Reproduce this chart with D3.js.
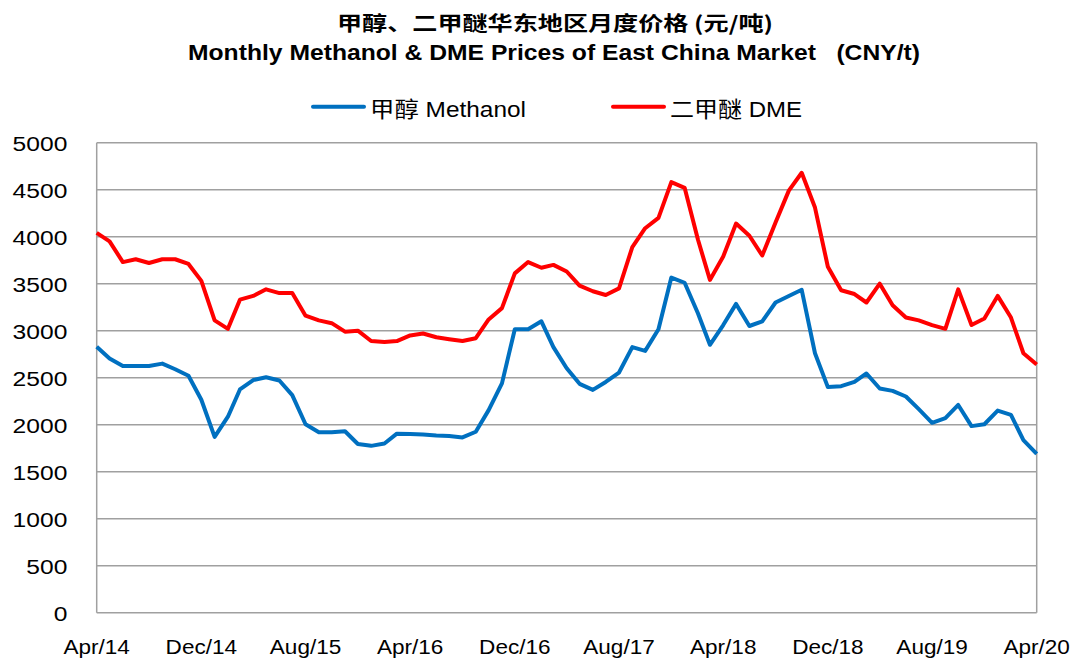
<!DOCTYPE html>
<html>
<head>
<meta charset="utf-8">
<script src="https://cdn.jsdelivr.net/npm/d3@7"></script>
<style>
  body { margin: 0; background: #fff; }
  text { font-family: "Liberation Sans", Arial, "Noto Sans CJK SC", sans-serif; fill: #000; }
</style>
</head>
<body>
<div id="chart"></div>
<script>
// monthly prices, Apr/14 .. Apr/20
var methanol = [2830, 2705, 2625, 2625, 2625, 2650, 2590, 2520, 2265, 1870, 2085, 2375, 2475,
  2505, 2470, 2315, 2005, 1920, 1920, 1930, 1795, 1775, 1800, 1905, 1900,
  1895, 1885, 1880, 1865, 1925, 2155, 2440, 3015, 3015, 3100, 2825, 2600,
  2435, 2370, 2455, 2555, 2825, 2785, 3015, 3565, 3510, 3185, 2850, 3060,
  3285, 3050, 3100, 3300, 3370, 3435, 2760, 2400, 2410, 2455, 2545, 2385,
  2360, 2300, 2165, 2020, 2070, 2210, 1985, 2005, 2150, 2105, 1835, 1690];
var dme = [4040, 3950, 3730, 3760, 3720, 3760, 3760, 3710, 3530, 3110, 3020, 3330, 3370,
  3440, 3400, 3400, 3160, 3110, 3080, 2990, 3000, 2890, 2880, 2890, 2950,
  2970, 2930, 2910, 2890, 2920, 3120, 3240, 3610, 3730, 3670, 3700, 3630,
  3480, 3420, 3380, 3450, 3890, 4090, 4200, 4580, 4520, 3970, 3540, 3790,
  4140, 4010, 3800, 4150, 4490, 4680, 4310, 3680, 3430, 3390, 3300, 3500,
  3270, 3140, 3110, 3060, 3020, 3440, 3060, 3130, 3370, 3140, 2760, 2640];
var months = d3.timeMonth.range(new Date(2014, 3, 1), new Date(2020, 4, 1));
var xTickLabels = ["Apr/14", "Dec/14", "Aug/15", "Apr/16", "Dec/16", "Aug/17", "Apr/18", "Dec/18", "Aug/19", "Apr/20"];
var yTicks = [0, 500, 1000, 1500, 2000, 2500, 3000, 3500, 4000, 4500, 5000];
var series = [
  { name: "甲醇 Methanol", values: methanol, color: "#0070c0" },
  { name: "二甲醚 DME", values: dme, color: "#ff0000" }
];

var W = 1072, H = 658;
var margin = { top: 142.7, right: 35.3, bottom: 45.3, left: 96.7 },
  width = W - margin.left - margin.right,
  height = H - margin.top - margin.bottom;

var svg = d3.select("#chart").append("svg")
  .attr("width", W)
  .attr("height", H);

var x = d3.scaleTime()
  .domain(d3.extent(months))
  .range([0, width]);
var y = d3.scaleLinear()
  .domain([0, 5000])
  .range([height, 0]);

var g = svg.append("g")
  .attr("transform", "translate(" + margin.left + "," + margin.top + ")");

// grid
g.append("g")
  .selectAll("line")
  .data(yTicks)
  .enter()
  .append("line")
  .attr("x1", 0)
  .attr("x2", width)
  .attr("y1", function (d) { return y(d); })
  .attr("y2", function (d) { return y(d); })
  .attr("stroke", "#a0a0a0")
  .attr("stroke-width", 1.5);

// left/right borders
[0, width].forEach(function (px) {
  g.append("line")
    .attr("x1", px).attr("x2", px)
    .attr("y1", 0).attr("y2", height)
    .attr("stroke", "#a0a0a0")
    .attr("stroke-width", 1.5);
});

// y axis labels
var yAxis = d3.axisLeft(y).tickValues(yTicks).tickSize(0).tickFormat(d3.format("d"));
var yG = g.append("g").call(yAxis);
yG.select(".domain").remove();
yG.selectAll("text")
  .attr("x", -24.5)
  .attr("dy", "0.36em")
  .attr("transform", "scale(1.2,1)")
  .style("font-size", "20.5px")
  .style("font-family", "Liberation Sans, Arial, sans-serif");

// x axis labels
var tickDates = months.filter(function (d, i) { return i % 8 == 0; });
var xAxis = d3.axisBottom(x)
  .tickValues(tickDates)
  .tickSize(0)
  .tickFormat(function (d, i) { return xTickLabels[i]; });
var xG = g.append("g")
  .attr("transform", "translate(0," + height + ")")
  .call(xAxis);
xG.select(".domain").remove();
xG.selectAll("text")
  .attr("y", 41)
  .attr("dy", 0)
  .attr("transform", "scale(1.1,1)")
  .style("font-size", "20.5px")
  .style("font-family", "Liberation Sans, Arial, sans-serif");
// keep the scaled labels centred on their ticks
xG.selectAll(".tick").each(function (d) {
  var px = x(d);
  d3.select(this).attr("transform", null)
    .select("text").attr("x", px / 1.1);
});

// lines
var line = d3.line()
  .x(function (d, i) { return x(months[i]); })
  .y(function (d) { return y(d); });

g.selectAll(".series")
  .data(series)
  .enter()
  .append("path")
  .attr("class", "series")
  .attr("d", function (s) { return line(s.values); })
  .attr("fill", "none")
  .attr("stroke", function (s) { return s.color; })
  .attr("stroke-width", 4)
  .attr("stroke-linejoin", "round");

// titles
svg.append("text")
  .attr("x", 337).attr("y", 31)
  .attr("textLength", 436)
  .attr("lengthAdjust", "spacingAndGlyphs")
  .style("font-family", "Noto Sans CJK SC, sans-serif")
  .style("font-weight", "bold")
  .style("font-size", "20px")
  .text("甲醇、二甲醚华东地区月度价格 (元/吨)");
svg.append("text")
  .attr("x", 188).attr("y", 60)
  .attr("textLength", 732)
  .attr("lengthAdjust", "spacingAndGlyphs")
  .style("white-space", "pre")
  .style("font-weight", "bold")
  .style("font-size", "21.5px")
  .text("Monthly Methanol & DME Prices of East China Market   (CNY/t)");

// legend
var legendX = [313, 613];
var legendTextW = [156, 132];
var lg = svg.selectAll(".legend")
  .data(series)
  .enter()
  .append("g")
  .attr("class", "legend")
  .attr("transform", function (d, i) { return "translate(" + legendX[i] + ",106.7)"; });
lg.append("line")
  .attr("x1", 0).attr("x2", 51)
  .attr("stroke", function (d) { return d.color; })
  .attr("stroke-width", 4)
  .attr("stroke-linecap", "round");
lg.append("text")
  .attr("x", 57)
  .attr("y", 10.5)
  .attr("textLength", function (d, i) { return legendTextW[i]; })
  .attr("lengthAdjust", "spacingAndGlyphs")
  .style("font-size", "21.5px")
  .style("font-family", "Liberation Sans, Arial, Noto Sans CJK SC, sans-serif")
  .text(function (d) { return d.name; });
</script>
</body>
</html>
